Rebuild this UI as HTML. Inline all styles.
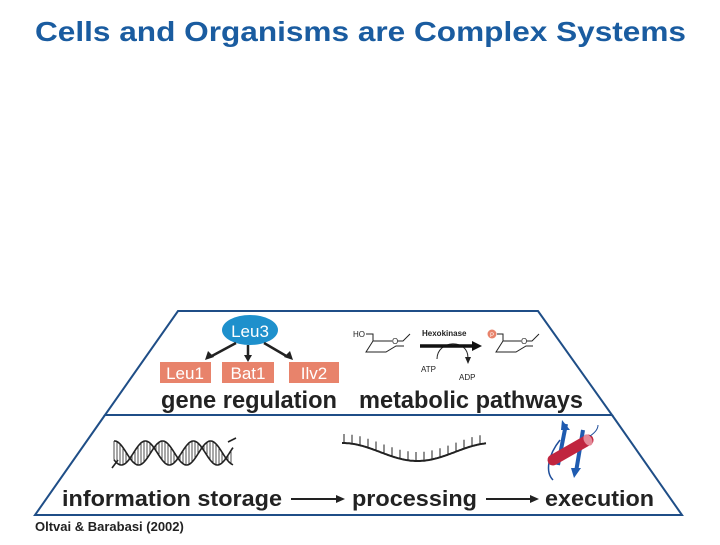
<!DOCTYPE html>
<html><head><style>
body{margin:0;width:720px;height:540px;background:#fff;overflow:hidden;font-family:"Liberation Sans",sans-serif}
</style></head><body>
<svg width="720" height="540" viewBox="0 0 720 540" xmlns="http://www.w3.org/2000/svg" font-family="Liberation Sans, sans-serif">
<text x="35" y="41" font-size="28" font-weight="bold" fill="#1a5ca0" textLength="651" lengthAdjust="spacingAndGlyphs">Cells and Organisms are Complex Systems</text>
<!-- frame -->
<path d="M178,311 L538,311 L612,415 L105,415 Z" fill="none" stroke="#1f4e87" stroke-width="2"/>
<path d="M105,415 L35,515 L682,515 L612,415" fill="none" stroke="#1f4e87" stroke-width="2"/>
<!-- gene regulation -->
<ellipse cx="250" cy="330" rx="28" ry="15" fill="#1e90cc"/>
<text x="250" y="337" font-size="17" fill="#fff" text-anchor="middle">Leu3</text>
<g stroke="#222" stroke-width="2.5" fill="none">
<path d="M236,343 L210,357"/><path d="M248,345 L248,356"/><path d="M264,343 L288,357"/>
</g>
<g fill="#222"><path d="M205,360 L208,351 L214,357Z"/><path d="M244,355 L252,355 L248,362Z"/><path d="M293,360 L284,357 L290,351Z"/></g>
<g fill="#e8836b"><rect x="160" y="362" width="51" height="21"/><rect x="222" y="362" width="52" height="21"/><rect x="289" y="362" width="50" height="21"/></g>
<g fill="#fff" font-size="17" text-anchor="middle"><text x="185" y="379">Leu1</text><text x="248" y="379">Bat1</text><text x="314" y="379">Ilv2</text></g>
<text x="161" y="408" font-size="24" font-weight="bold" fill="#222" textLength="176" lengthAdjust="spacingAndGlyphs">gene regulation</text>
<text x="359" y="408" font-size="24" font-weight="bold" fill="#222" textLength="224" lengthAdjust="spacingAndGlyphs">metabolic pathways</text>
<!-- metabolic -->
<text x="353" y="337" font-size="8" fill="#222">HO</text>
<g stroke="#222" stroke-width="1" fill="none">
<path d="M366,334 L373,334 L373,341 L392,341"/><path d="M398,341 L403,341 L410,334"/>
<path d="M373,341 L366,352 L386,352 L396,346 L404,346"/>
<path d="M497,334 L503,334 L503,341 L521,341"/><path d="M527,341 L532,341 L539,334"/>
<path d="M503,341 L496,352 L516,352 L526,346 L533,346"/>
<path d="M437,359 C437,340 468,338 468,358"/>
</g>
<text x="392" y="344" font-size="8" fill="#222">O</text>
<text x="521" y="344" font-size="8" fill="#222">O</text>
<text x="422" y="336" font-size="8" font-weight="bold" fill="#222">Hexokinase</text>
<path d="M420,346 L475,346" stroke="#111" stroke-width="3.5"/><path d="M472,341 L482,346 L472,351Z" fill="#111"/>
<path d="M465,357 L471,357 L468,364Z" fill="#222"/>
<text x="421" y="372" font-size="8" fill="#222">ATP</text>
<text x="459" y="380" font-size="8" fill="#222">ADP</text>
<circle cx="492" cy="334" r="4.5" fill="#e8836b"/><text x="492" y="337" font-size="6" fill="#fff" text-anchor="middle">P</text>
<!-- DNA -->
<g id="dna" stroke="#222" fill="none" stroke-width="1.6"></g>
<!-- RNA -->
<g id="rna" stroke="#222" fill="none" stroke-width="1.6"></g>
<!-- protein -->
<g>
<path d="M560,440 C548,455 545,472 553,480" stroke="#1f4e9a" stroke-width="1.5" fill="none"/>
<path d="M566,424 L558,465" stroke="#1f5bb0" stroke-width="4"/><path d="M562,420 L570,430 L561,430Z" fill="#1f5bb0"/>
<path d="M583,430 L576,472" stroke="#1f5bb0" stroke-width="4"/><path d="M571,468 L581,468 L574,478Z" fill="#1f5bb0"/>
<path d="M553,460 L588,440" stroke="#c0253f" stroke-width="11" stroke-linecap="round"/>
<ellipse cx="588" cy="440" rx="4" ry="6" fill="#e48a98" transform="rotate(-30 588 440)"/>
<path d="M590,436 C596,432 598,428 598,425" stroke="#1f4e9a" stroke-width="1" fill="none"/>
</g>
<!-- bottom labels -->
<g font-size="22" font-weight="bold" fill="#222" lengthAdjust="spacingAndGlyphs">
<text x="62" y="506" textLength="220" lengthAdjust="spacingAndGlyphs">information storage</text><text x="352" y="506" textLength="125" lengthAdjust="spacingAndGlyphs">processing</text><text x="545" y="506" textLength="109" lengthAdjust="spacingAndGlyphs">execution</text>
</g>
<path d="M291,499 L338,499 M486,499 L532,499" stroke="#222" stroke-width="2"/>
<path d="M336,495 L345,499 L336,503Z M530,495 L539,499 L530,503Z" fill="#222"/>
<text x="35" y="531" font-size="13" font-weight="bold" fill="#222">Oltvai &amp; Barabasi (2002)</text>
</svg>
<script>
var ns="http://www.w3.org/2000/svg";
function P(d,g,w){var p=document.createElementNS(ns,"path");p.setAttribute("d",d);if(w)p.setAttribute("stroke-width",w);document.getElementById(g).appendChild(p);}
var x0=114,x1=233,cy=453,A=12,T=48;
var a="",b="",l="";
for(var x=x0;x<=x1;x+=1){var s=Math.sin((x-x0)*2*Math.PI/T+0.6),y1=cy+A*s,y2=cy-A*Math.sin((x-x0)*2*Math.PI/T+0.6+0.9);a+=(x==x0?"M":"L")+x+","+y1.toFixed(1);b+=(x==x0?"M":"L")+x+","+y2.toFixed(1);if((x-x0)%3==0)l+="M"+x+","+y1.toFixed(1)+"L"+x+","+y2.toFixed(1);}
P(a,"dna");P(b,"dna");P(l,"dna",0.8);P("M112,468 L118,460 M228,442 L236,438","dna");
var r="",t="";
for(var x=342;x<=486;x+=1){var y=452+9*Math.sin((x-380)*2*Math.PI/150);r+=(x==342?"M":"L")+x+","+y.toFixed(1);if((x-344)%8==0)t+="M"+x+","+y.toFixed(1)+"L"+x+","+(y-9).toFixed(1);}
P(r,"rna",2);P(t,"rna",1);
</script>
</body></html>
